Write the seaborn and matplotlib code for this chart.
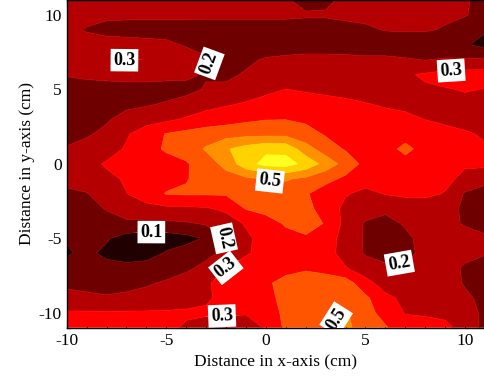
import numpy as np
import matplotlib
matplotlib.use("Agg")
import matplotlib.pyplot as plt
import seaborn as sns

# grid of the measurement (cm)
x_cm = np.arange(-10, 12)
y_cm = np.arange(-11, 12)

# field values, one row per y position (top row y=11 down to y=-11)
z_y11 = [0.25, 0.25, 0.25, 0.24, 0.24, 0.23, 0.23, 0.23, 0.23, 0.22, 0.22, 0.21, 0.17, 0.18, 0.22, 0.23, 0.24, 0.24, 0.24, 0.23, 0.21, 0.17]
z_y10 = [0.25, 0.24, 0.22, 0.22, 0.22, 0.22, 0.22, 0.22, 0.22, 0.22, 0.22, 0.22, 0.21, 0.21, 0.22, 0.23, 0.23, 0.23, 0.23, 0.22, 0.205, 0.17]
z_y9 = [0.23, 0.19, 0.17, 0.16, 0.16, 0.16, 0.16, 0.15, 0.15, 0.15, 0.15, 0.15, 0.16, 0.16, 0.17, 0.18, 0.205, 0.21, 0.21, 0.19, 0.16, 0.11]
z_y8 = [0.26, 0.25, 0.24, 0.24, 0.23, 0.22, 0.19, 0.17, 0.15, 0.14, 0.14, 0.15, 0.15, 0.15, 0.14, 0.14, 0.14, 0.13, 0.13, 0.12, 0.11, 0.07]
z_y7 = [0.27, 0.28, 0.299, 0.303, 0.299, 0.28, 0.25, 0.21, 0.18, 0.18, 0.21, 0.22, 0.23, 0.23, 0.23, 0.22, 0.22, 0.21, 0.195, 0.21, 0.21, 0.21]
z_y6 = [0.205, 0.22, 0.23, 0.24, 0.24, 0.23, 0.22, 0.19, 0.18, 0.21, 0.22, 0.24, 0.25, 0.25, 0.26, 0.26, 0.27, 0.29, 0.31, 0.33, 0.34, 0.34]
z_y5 = [0.17, 0.16, 0.16, 0.16, 0.16, 0.16, 0.17, 0.21, 0.22, 0.25, 0.28, 0.301, 0.29, 0.28, 0.27, 0.26, 0.26, 0.27, 0.29, 0.295, 0.305, 0.298]
z_y4 = [0.15, 0.16, 0.17, 0.18, 0.19, 0.21, 0.24, 0.27, 0.29, 0.31, 0.33, 0.34, 0.34, 0.33, 0.32, 0.305, 0.29, 0.28, 0.28, 0.28, 0.28, 0.28]
z_y3 = [0.16, 0.17, 0.19, 0.23, 0.26, 0.28, 0.31, 0.34, 0.36, 0.38, 0.395, 0.397, 0.38, 0.36, 0.35, 0.34, 0.33, 0.32, 0.298, 0.28, 0.27, 0.26]
z_y2 = [0.18, 0.19, 0.22, 0.29, 0.35, 0.405, 0.43, 0.45, 0.46, 0.47, 0.47, 0.47, 0.44, 0.39, 0.37, 0.36, 0.36, 0.37, 0.35, 0.33, 0.31, 0.29]
z_y1 = [0.205, 0.23, 0.26, 0.31, 0.37, 0.41, 0.44, 0.51, 0.59, 0.64, 0.68, 0.67, 0.54, 0.45, 0.39, 0.36, 0.37, 0.42, 0.37, 0.33, 0.31, 0.31]
z_y0 = [0.22, 0.27, 0.31, 0.33, 0.35, 0.37, 0.39, 0.45, 0.53, 0.66, 0.73, 0.74, 0.67, 0.56, 0.46, 0.37, 0.35, 0.37, 0.35, 0.33, 0.31, 0.32]
z_ym1 = [0.23, 0.25, 0.28, 0.31, 0.34, 0.37, 0.395, 0.43, 0.46, 0.48, 0.51, 0.51, 0.48, 0.43, 0.38, 0.35, 0.34, 0.34, 0.33, 0.32, 0.28, 0.24]
z_ym2 = [0.18, 0.195, 0.25, 0.298, 0.35, 0.405, 0.41, 0.41, 0.41, 0.42, 0.44, 0.45, 0.41, 0.35, 0.31, 0.27, 0.305, 0.32, 0.32, 0.295, 0.19, 0.15]
z_ym3 = [0.15, 0.17, 0.205, 0.25, 0.27, 0.28, 0.285, 0.29, 0.32, 0.405, 0.43, 0.43, 0.42, 0.37, 0.27, 0.25, 0.22, 0.24, 0.25, 0.24, 0.18, 0.12]
z_ym4 = [0.14, 0.15, 0.17, 0.18, 0.18, 0.18, 0.19, 0.21, 0.25, 0.31, 0.36, 0.41, 0.43, 0.395, 0.27, 0.19, 0.17, 0.21, 0.23, 0.23, 0.19, 0.15]
z_ym5 = [0.105, 0.12, 0.11, 0.06, 0.04, 0.05, 0.07, 0.11, 0.21, 0.28, 0.34, 0.37, 0.39, 0.35, 0.26, 0.19, 0.16, 0.18, 0.23, 0.25, 0.24, 0.22]
z_ym6 = [0.09, 0.12, 0.08, 0.05, 0.06, 0.11, 0.14, 0.17, 0.23, 0.29, 0.33, 0.35, 0.36, 0.33, 0.27, 0.19, 0.16, 0.18, 0.22, 0.24, 0.22, 0.205]
z_ym7 = [0.13, 0.14, 0.13, 0.13, 0.14, 0.16, 0.18, 0.23, 0.302, 0.34, 0.37, 0.38, 0.39, 0.36, 0.305, 0.25, 0.22, 0.21, 0.23, 0.23, 0.19, 0.17]
z_ym8 = [0.18, 0.17, 0.16, 0.17, 0.19, 0.21, 0.25, 0.29, 0.33, 0.36, 0.39, 0.42, 0.44, 0.46, 0.45, 0.33, 0.26, 0.25, 0.25, 0.25, 0.19, 0.16]
z_ym9 = [0.23, 0.22, 0.21, 0.22, 0.23, 0.25, 0.27, 0.29, 0.32, 0.35, 0.38, 0.42, 0.45, 0.47, 0.46, 0.42, 0.32, 0.28, 0.27, 0.26, 0.22, 0.17]
z_ym10 = [0.31, 0.31, 0.31, 0.31, 0.31, 0.31, 0.31, 0.31, 0.31, 0.305, 0.33, 0.43, 0.46, 0.48, 0.51, 0.44, 0.36, 0.295, 0.29, 0.28, 0.24, 0.18]
z_ym11 = [0.33, 0.34, 0.35, 0.35, 0.34, 0.32, 0.29, 0.27, 0.26, 0.27, 0.305, 0.42, 0.46, 0.49, 0.52, 0.46, 0.41, 0.34, 0.33, 0.32, 0.27, 0.17]

levels = [0.0, 0.1, 0.2, 0.3, 0.4, 0.5, 0.6, 0.7, 0.8]
band_colors = ["#200000", "#6e0000", "#b40000", "#ff0000",
               "#ff5500", "#ff9000", "#ffd200", "#ffff20"]

# label positions (x, y) for each labelled level
label_pos = {
    0.1: [(-5.75, -4.6)],
    0.2: [(-2.8, 6.7), (-1.9, -5.1), (6.7, -7.0)],
    0.3: [(-7.1, 7.0), (9.3, 6.3), (-2.0, -7.0), (-2.2, -10.3)],
    0.5: [(0.2, -1.3), (3.0, -10.1)],
}

rows_top_down = [z_y11, z_y10, z_y9, z_y8, z_y7, z_y6, z_y5, z_y4, z_y3, z_y2, z_y1, z_y0,
                 z_ym1, z_ym2, z_ym3, z_ym4, z_ym5, z_ym6, z_ym7, z_ym8, z_ym9, z_ym10, z_ym11]
Z = np.array(rows_top_down[::-1])

sns.set_theme(style="ticks")
plt.rcParams["font.family"] = ["Liberation Serif", "DejaVu Serif"]
plt.rcParams["axes.unicode_minus"] = False
plt.rcParams["xtick.direction"] = "in"
plt.rcParams["ytick.direction"] = "in"

fig = plt.figure(figsize=(4.85, 3.82), dpi=100)
ax = fig.add_axes([66.7 / 485, 1 - 327.7 / 382, 1 - 66.7 / 485, 327.7 / 382])

ax.contourf(x_cm, y_cm, Z, levels=levels, colors=band_colors, antialiased=True)

# one line set per level, so each level can get its own labels
for i, lev in enumerate(levels[1:-1]):
    cs = ax.contour(x_cm, y_cm, Z, levels=[lev], colors=[band_colors[i + 1]], linewidths=0.6)
    if lev in label_pos:
        texts = ax.clabel(cs, manual=label_pos[lev], inline=True, fmt="%.1f",
                          fontsize=13, colors="black")
        for t in texts:
            t.set_fontweight("bold")
            t.set_bbox(dict(facecolor="white", edgecolor="none", pad=2.0))

ax.set_xlim(-10, 11)
ax.set_ylim(-11, 11)
ax.set_xticks([-10, -5, 0, 5, 10])
ax.set_yticks([-10, -5, 0, 5, 10])
ax.set_xticks(np.arange(-10, 12), minor=True)
ax.set_yticks(np.arange(-11, 12), minor=True)
ax.tick_params(which="both", top=True, right=True, colors="black", labelsize=12.5)
ax.tick_params(which="major", length=5, width=0.8)
ax.tick_params(which="minor", length=3, width=0.8)
for sp in ax.spines.values():
    sp.set_color("black")
    sp.set_linewidth(1.0)

ax.set_xlabel("Distance in x-axis (cm)", fontsize=12.5, color="black", labelpad=4)
ax.set_ylabel("Distance in y-axis (cm)", fontsize=12.5, color="black", labelpad=3)

fig.savefig("out.png", dpi=100)
